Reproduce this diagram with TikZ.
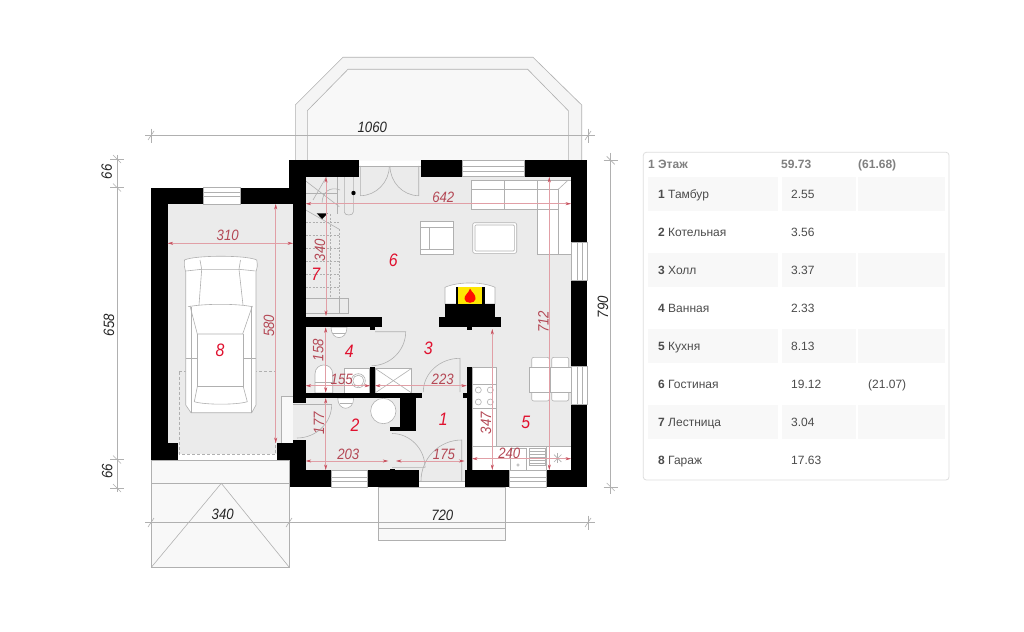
\documentclass[tikz,border=0pt]{standalone}
\usepackage{fontspec}
\setmainfont{Liberation Sans}
\newfontfamily\planfont[FakeStretch=0.88]{Liberation Sans}
\usetikzlibrary{arrows.meta}
\definecolor{floorgray}{HTML}{EBEBEB}
\definecolor{porchgray}{HTML}{F8F8F8}
\definecolor{linegray}{HTML}{B0B0B0}
\definecolor{dimred}{HTML}{C8505E}
\definecolor{numred}{HTML}{E0102E}
\definecolor{rowgray}{HTML}{F8F8F8}
\tikzset{
  wall/.style={fill=black,draw=none},
  thinline/.style={draw=linegray,line width=0.6pt},
  furn/.style={draw=linegray,line width=0.6pt,fill=white},
  winbox/.style={draw=linegray,line width=0.6pt,fill=white},
  dimline/.style={draw=dimred!55!white,line width=0.45pt,{Stealth[length=5.5pt,width=3pt,color=dimred]}-{Stealth[length=5.5pt,width=3pt,color=dimred]}},
  measure/.style={draw=linegray,line width=0.6pt},
  dimtext/.style={font=\planfont\fontsize{15}{15}\selectfont\itshape,text=black!85,inner sep=0pt},
  redtext/.style={font=\planfont\fontsize{15}{15}\selectfont\itshape,text=dimred!90!black,inner sep=0pt},
  roomnum/.style={font=\planfont\fontsize{18}{18}\selectfont\itshape,text=numred,inner sep=0pt},
  headtext/.style={font=\fontsize{12}{12}\selectfont\bfseries,text=black!50,inner sep=0pt,anchor=base west},
  rowtext/.style={font=\fontsize{12}{12}\selectfont,text=black!70,inner sep=0pt,anchor=base west},
  rowband/.style={fill=rowgray,draw=none}
}
\begin{document}
\begin{tikzpicture}[x=1pt,y=-1pt]
  \useasboundingbox[fill=white] (0,0) rectangle (1024,631);
  % bay and porches
  \draw[thinline,fill=porchgray!80!floorgray] (295.3,160.3) -- (295.3,105) -- (343,57.3) -- (533,57.3) -- (581.7,105) -- (581.7,160.3);
  \draw[thinline,fill=porchgray] (307.3,160.3) -- (307.3,110.7) -- (348,69.3) -- (527.7,69.3) -- (568.3,110.7) -- (568.3,160.3);
  \draw[thinline,fill=porchgray] (378.7,487) rectangle (505.7,540.7);
  \draw[thinline] (378.7,528.7) -- (505.7,528.7);
  \draw[thinline,fill=porchgray] (151.3,460) rectangle (289.3,567.3);
  \draw[thinline] (151.3,483.3) -- (289.3,483.3);
  \draw[thinline] (151.3,567.3) -- (221.3,483.3) -- (289.3,567.3);
  % floors
  \fill[floorgray] (305.7,176.7) rectangle (571,470.3);
  \fill[floorgray] (167.7,204) rectangle (293.3,443.3);
  \fill[floorgray] (178,443) rectangle (277,454);
  \fill[floorgray] (293,402) rectangle (306,440);
  \fill[floorgray] (419,470) rectangle (465,481);
  \fill[floorgray] (359,166) rectangle (421,177);
  \fill[porchgray] (281.7,396) rectangle (293.3,443.3);
  % measure lines
  \draw[measure] (145,135.7) -- (595,135.7);
  \draw[measure] (148,140) -- (154,131);
  \draw[measure] (151,128.7) -- (151,142.7);
  \draw[measure] (585,140) -- (591,131);
  \draw[measure] (588,128.7) -- (588,142.7);
  \draw[measure] (145,522.7) -- (595,522.7);
  \draw[measure] (148,527) -- (154,518);
  \draw[measure] (151,515.7) -- (151,529.7);
  \draw[measure] (286,527) -- (292,518);
  \draw[measure] (289.3,515.7) -- (289.3,529.7);
  \draw[measure] (585,527) -- (591,518);
  \draw[measure] (588,515.7) -- (588,529.7);
  \draw[measure] (117.3,155) -- (117.3,492);
  \draw[measure] (110,159) -- (124,159);
  \draw[measure] (110,187.5) -- (124,187.5);
  \draw[measure] (110,459.5) -- (124,459.5);
  \draw[measure] (110,488) -- (124,488);
  \draw[measure] (113,155) -- (121,163);
  \draw[measure] (113,183.5) -- (121,191.5);
  \draw[measure] (113,455.5) -- (121,463.5);
  \draw[measure] (113,484) -- (121,492);
  \draw[measure] (610.7,153) -- (610.7,494);
  \draw[measure] (603.7,160.3) -- (617.7,160.3);
  \draw[measure] (606.7,156.3) -- (614.7,164.3);
  \draw[measure] (603.7,487) -- (617.7,487);
  \draw[measure] (606.7,483) -- (614.7,491);
  % stairs
  \draw[thinline] (305.7,181) -- (339.3,206.7);
  \draw[thinline] (326.5,176.7) -- (313,200);
  \draw[thinline] (305.7,210) -- (339.3,229.3);
  \draw[thinline] (305.7,193) -- (337,193);
  \draw[thinline] (337,176.7) -- (337,214);
  \draw[thinline] (344.3,176.7) -- (344.3,212) .. controls (344.3,216) and (353.3,216) .. (353.3,212) -- (353.3,176.7);
  \draw[thinline] (322,203.7) .. controls (322,192) and (330,186) .. (340,190);
  \draw[thinline,dash pattern=on 2pt off 1.5pt] (330,214) -- (330,298);
  \draw[thinline,dash pattern=on 2pt off 1.5pt] (339.3,229) -- (339.3,298);
  \foreach \ystep in {222,235,248,261,274,287}{
    \draw[thinline,dash pattern=on 2pt off 1.5pt] (305.7,\ystep) -- (339.3,\ystep);
  }
  \draw[thinline] (305.7,298.3) -- (348.7,298.3) -- (348.7,313.3) -- (305.7,313.3);
  \draw[thinline] (339.3,298.3) -- (339.3,313.3);
  \fill[black] (353.5,193) circle (2.2);
  \fill[black] (316.7,213.3) -- (327.7,213.3) -- (322,219) -- cycle;
  % living room
  \draw[furn] (471.7,180) rectangle (571,209.3);
  \draw[furn] (537.3,180) rectangle (571,254.3);
  \draw[thinline] (471.7,189.3) -- (558.3,189.3) -- (558.3,254.3);
  \draw[thinline] (504.3,180) -- (504.3,209.3);
  \draw[thinline] (537.3,209.3) -- (558.3,209.3);
  \draw[thinline] (558.3,189.3) -- (568.3,180);
  \draw[furn] (420.3,221.7) rectangle (453.7,254.3);
  \draw[thinline] (420.3,227.3) -- (453.7,227.3);
  \draw[thinline] (429,227.3) -- (429,249.3);
  \draw[thinline] (420.3,249.3) -- (453.7,249.3);
  \draw[furn,rounded corners=2pt] (472.7,222.7) rectangle (516.7,253.3);
  \draw[thinline,rounded corners=1pt] (475,225) rectangle (514.4,251);
  % fireplace
  \draw[furn] (445,304) -- (445,287.3) .. controls (458,281.5) and (482,281.5) .. (495,287.3) -- (495,304) -- cycle;
  \fill[black] (455.7,287.3) rectangle (485,304);
  \fill[yellow!90!orange] (457.7,287.3) rectangle (482.3,304);
  \fill[red!90!orange] (470,288.5) .. controls (472,293) and (476,294) .. (475.5,299) .. controls (475,304) and (465,304) .. (464.5,299) .. controls (464,295) and (469,293) .. (470,288.5) -- cycle;
  \fill[wall] (445,304) rectangle (495,317.3);
  \fill[wall] (439.3,317.3) rectangle (500.7,327.3);
  \fill[wall] (466.7,327) rectangle (472,329.7);
  % dining set
  \draw[furn,rounded corners=2pt] (531.7,357.3) rectangle (549.3,370);
  \draw[furn,rounded corners=2pt] (551.7,357.3) rectangle (568.7,370);
  \draw[furn,rounded corners=2pt] (531.7,389) rectangle (549.3,401);
  \draw[furn,rounded corners=2pt] (551.7,389) rectangle (568.7,401);
  \draw[furn] (529.3,367.3) rectangle (571,392);
  \draw[thinline] (550.3,367.3) -- (550.3,392);
  % kitchen
  \draw[furn] (472,367) rectangle (496.3,470.3);
  \draw[furn] (472,446.7) rectangle (571,470.3);
  \fill[white] (473,447.5) rectangle (495.8,469.5);
  \draw[thinline] (472,384) -- (496.3,384);
  \draw[thinline] (472,408.3) -- (496.3,408.3);
  \draw[thinline] (478.3,390) circle (3);
  \draw[thinline] (490.3,390) circle (3);
  \draw[thinline] (478.3,402) circle (3);
  \draw[thinline] (490.3,402) circle (3);
  \draw[furn] (510,448.3) rectangle (526,470.3);
  \draw[thinline] (518,465) circle (1.2);
  \draw[furn] (529.3,448.3) rectangle (545,465);
  \foreach \ystep in {451,454,457,460,463}{
    \draw[thinline] (529.3,\ystep) -- (545,\ystep);
  }
  \draw[thinline] (546,446.7) -- (546,470.3);
  \draw[thinline] (552.7,458.3) -- (562.7,458.3);
  \draw[thinline] (557.7,453.3) -- (557.7,463.3);
  \draw[thinline] (554,454.6) -- (561.4,462);
  \draw[thinline] (554,462) -- (561.4,454.6);
  % bathroom
  \draw[furn] (315,393) -- (315,374) .. controls (315,362) and (332.7,362) .. (332.7,374) -- (332.7,393) -- cycle;
  \draw[thinline] (315,382) -- (332.7,382);
  \draw[furn] (344.3,368.3) rectangle (369.3,393);
  \draw[thinline] (358.3,380.7) circle (7);
  \draw[thinline] (358.3,380.7) circle (5.5);
  \draw[furn] (375,368.3) rectangle (411.7,393);
  \draw[thinline] (375,368.3) -- (411.7,393);
  \draw[thinline] (375,393) -- (411.7,368.3);
  \draw[furn] (331,327.3) .. controls (331,341) and (347,341) .. (347,327.3) -- cycle;
  \draw[thinline] (333,333) -- (345,333);
  % boiler room
  \draw[furn] (337.7,398) .. controls (337.7,411.7) and (353.7,411.7) .. (353.7,398) -- cycle;
  \draw[thinline] (339.7,403.5) -- (351.7,403.5);
  \draw[furn] (383.3,411) circle (12.7);
  % doors
  \draw[thinline] (359,166) -- (421,166);
  \draw[thinline] (360.3,166) -- (360.3,195.7) .. controls (376.3,195.7) and (389.3,182) .. (389.3,166);
  \draw[thinline] (418.7,166) -- (418.7,195.7) .. controls (402.7,195.7) and (390,182) .. (390,166);
  \draw[thinline] (375,331.7) -- (405.7,331.7) .. controls (405.7,350.4) and (390,365.7) .. (371.7,365.7);
  \draw[thinline] (460,392) -- (460,358.3) .. controls (440,358.3) and (423.3,373) .. (423.3,392);
  \draw[thinline] (392,467.3) -- (425,467.3) .. controls (425,449) and (410,433.5) .. (392,433.5);
  \draw[thinline] (461.7,481) -- (461.7,440) .. controls (439,440) and (421,458.5) .. (421,481);
  \draw[thinline] (419.3,481) -- (464.7,481);
  \draw[thinline] (293.3,404.5) -- (331.7,404.5);
  \draw[thinline] (331.7,404.5) .. controls (331.7,423) and (316,438) .. (297,438);
  \draw[thinline] (281.7,443.3) -- (281.7,396) -- (293.3,396);
  % garage door and car
  \draw[thinline,dash pattern=on 3pt off 2pt,line width=0.5pt] (179.3,371.7) rectangle (275.7,454);
  \draw[furn] (184.5,260) .. controls (195,255) and (247,255) .. (256.7,260) .. controls (258,266) and (257,268) .. (256,272) -- (256,405) -- (251.7,412.7) -- (191,412.7) -- (185.7,405) -- (185.7,272) .. controls (184.5,268) and (184,266) .. (184.5,260) -- cycle;
  \draw[thinline] (186,271) -- (201.7,269.3) -- (239,269.3) -- (255.7,271);
  \draw[thinline] (200,260) -- (201.7,269.3);
  \draw[thinline] (240.5,260) -- (239,269.3);
  \draw[thinline] (201.7,269.3) -- (199,305);
  \draw[thinline] (239,269.3) -- (243,305);
  \draw[thinline] (188,306.7) .. controls (205,303.5) and (237,303.5) .. (252.3,306.7);
  \draw[thinline] (190,306) -- (197.3,334) -- (242.7,334) -- (252.3,306);
  \draw[thinline] (197.3,334) -- (197.3,386.7) -- (243.3,386.7) -- (243.3,334);
  \draw[thinline] (191,307) -- (191,412.7);
  \draw[thinline] (251.7,307) -- (251.7,412.7);
  \draw[thinline] (185.7,358.3) -- (197.3,358.3);
  \draw[thinline] (243.3,358.3) -- (256,358.3);
  \draw[thinline] (197.3,386.7) -- (194.3,401.7) .. controls (205,405) and (237,405) .. (247.3,401.7) -- (243.3,386.7);
  % walls
  \fill[wall] (289.3,160.3) rectangle (359,176.7);
  \fill[wall] (421,160.3) rectangle (462.5,176.7);
  \fill[wall] (524.3,160.3) rectangle (587,176.7);
  \fill[wall] (571,160.3) rectangle (587,242.7);
  \fill[wall] (571,280) rectangle (587,366.7);
  \fill[wall] (571,404) rectangle (587,487);
  \fill[wall] (290,470.3) rectangle (331,487);
  \fill[wall] (367.7,470.3) rectangle (419.3,487);
  \fill[wall] (464.7,470.3) rectangle (509,487);
  \fill[wall] (546,470.3) rectangle (587,487);
  \fill[wall] (289.3,160.3) rectangle (305.7,204);
  \fill[wall] (293.3,160.3) rectangle (305.7,402.7);
  \fill[wall] (293.3,440) rectangle (305.7,487);
  \fill[wall] (276.7,443.3) rectangle (305.7,459.7);
  \fill[wall] (290,459) rectangle (305.7,487);
  \fill[wall] (151.3,187.7) rectangle (167.7,460);
  \fill[wall] (151.3,187.7) rectangle (203.3,204);
  \fill[wall] (240,187.7) rectangle (293.3,204);
  \fill[wall] (151.3,443.3) rectangle (178,460);
  \fill[wall] (305.7,317.3) rectangle (381.7,327.3);
  \fill[wall] (370,327) rectangle (375,330);
  \fill[wall] (370,366.7) rectangle (375,393);
  \fill[wall] (305.7,392.7) rectangle (421.7,398);
  \fill[wall] (400,397) rectangle (415.7,431);
  \fill[wall] (390,426.7) rectangle (401,431);
  \fill[wall] (466.7,366.7) rectangle (472,471);
  \fill[wall] (462.7,392.7) rectangle (467,398);
  \fill[wall] (390,469) rectangle (395,471);
  % windows
  \draw[winbox] (462.5,160.3) rectangle (524.3,176.7);
  \draw[thinline] (462.5,166) -- (524.3,166);
  \draw[thinline] (462.5,171) -- (524.3,171);
  \draw[winbox] (203.3,187.7) rectangle (240,204);
  \draw[thinline] (203.3,192.7) -- (240,192.7);
  \draw[thinline] (203.3,196.7) -- (240,196.7);
  \draw[winbox] (331,470.3) rectangle (367.7,487);
  \draw[thinline] (331,477.7) -- (367.7,477.7);
  \draw[thinline] (331,481.7) -- (367.7,481.7);
  \draw[winbox] (509,470.3) rectangle (546,487);
  \draw[thinline] (509,477.7) -- (546,477.7);
  \draw[thinline] (509,481.7) -- (546,481.7);
  \draw[winbox] (571,242.7) rectangle (587,280);
  \draw[thinline] (577,242.7) -- (577,280);
  \draw[thinline] (582,242.7) -- (582,280);
  \draw[winbox] (571,366.7) rectangle (587,404);
  \draw[thinline] (577,366.7) -- (577,404);
  \draw[thinline] (582,366.7) -- (582,404);
  % inner sizes
  \draw[dimline] (305.7,203.7) -- (571,203.7);
  \draw[dimline] (326,177) -- (326,316);
  \draw[dimline] (549.3,177) -- (549.3,470);
  \draw[dimline] (492.3,329) -- (492.3,470);
  \draw[dimline] (325.7,327.3) -- (325.7,392.7);
  \draw[dimline] (305.7,385.7) -- (370,385.7);
  \draw[dimline] (375,385.7) -- (466.7,385.7);
  \draw[dimline] (325.7,398) -- (325.7,470);
  \draw[dimline] (305.7,461) -- (388.3,461);
  \draw[dimline] (396,461) -- (464.5,461);
  \draw[dimline] (472,458.7) -- (571,458.7);
  \draw[dimline] (167.7,243.3) -- (293,243.3);
  \draw[dimline] (275.7,204) -- (275.7,443);
  % outer sizes
  \node[dimtext] (t1060) at (372.3,127) {1060};
  \node[dimtext] (t720) at (442.3,515) {720};
  \node[dimtext] (t340) at (222.7,514.5) {340};
  \node[dimtext,rotate=90] (t66a) at (106.7,171.7) {66};
  \node[dimtext,rotate=90] (t658) at (109,325) {658};
  \node[dimtext,rotate=90] (t66b) at (107.3,471) {66};
  \node[dimtext,rotate=90] (t790) at (603,307) {790};
  \node[redtext] (t642) at (443.3,197) {642};
  \node[redtext,rotate=90] (t340r) at (320,250) {340};
  \node[redtext,rotate=90] (t712) at (543.3,321.7) {712};
  \node[redtext,rotate=90] (t347) at (486,423) {347};
  \node[redtext,rotate=90] (t158) at (318.3,350) {158};
  \node[redtext] (t155) at (341.7,379) {155};
  \node[redtext] (t223) at (442.7,379) {223};
  \node[redtext,rotate=90] (t177) at (319,423) {177};
  \node[redtext] (t203) at (348.3,454) {203};
  \node[redtext] (t175) at (444,454) {175};
  \node[redtext] (t240) at (509.3,453) {240};
  \node[redtext] (t310) at (227.7,235.7) {310};
  \node[redtext,rotate=90] (t580) at (269,325.7) {580};
  % room numbers
  \node[roomnum] (room1) at (443.3,419.3) {1};
  \node[roomnum] (room2) at (355,425) {2};
  \node[roomnum] (room3) at (428.3,348.3) {3};
  \node[roomnum] (room4) at (349.3,351.7) {4};
  \node[roomnum] (room5) at (525.7,422.7) {5};
  \node[roomnum] (room6) at (393.3,260) {6};
  \node[roomnum] (room7) at (315.7,274) {7};
  \node[roomnum] (room8) at (220,350) {8};
  % area table
  \draw[draw=black!13,line width=0.8pt,rounded corners=3pt,fill=white] (643.3,152.3) rectangle (949,480);
  \foreach \ytop in {176.7,252.5,328.5,404.5}{
    \fill[rowband] (648.3,\ytop) rectangle (778.3,\ytop+34.7);
    \fill[rowband] (781.7,\ytop) rectangle (855.7,\ytop+34.7);
    \fill[rowband] (857.7,\ytop) rectangle (945,\ytop+34.7);
  }
  \node[headtext] (head1) at (648,168) {1 Этаж};
  \node[headtext] (head2) at (781,168) {59.73};
  \node[headtext] (head3) at (858,168) {(61.68)};
  \node[rowtext] (name1) at (658,198) {\textbf{1} Тамбур};
  \node[rowtext] (area1) at (791,198) {2.55};
  \node[rowtext] (name2) at (658,236) {\textbf{2} Котельная};
  \node[rowtext] (area2) at (791,236) {3.56};
  \node[rowtext] (name3) at (658,274) {\textbf{3} Холл};
  \node[rowtext] (area3) at (791,274) {3.37};
  \node[rowtext] (name4) at (658,312) {\textbf{4} Ванная};
  \node[rowtext] (area4) at (791,312) {2.33};
  \node[rowtext] (name5) at (658,350) {\textbf{5} Кухня};
  \node[rowtext] (area5) at (791,350) {8.13};
  \node[rowtext] (name6) at (658,388) {\textbf{6} Гостиная};
  \node[rowtext] (area6) at (791,388) {19.12};
  \node[rowtext] (full6) at (868,388) {(21.07)};
  \node[rowtext] (name7) at (658,426) {\textbf{7} Лестница};
  \node[rowtext] (area7) at (791,426) {3.04};
  \node[rowtext] (name8) at (658,464) {\textbf{8} Гараж};
  \node[rowtext] (area8) at (791,464) {17.63};
\end{tikzpicture}
\end{document}
